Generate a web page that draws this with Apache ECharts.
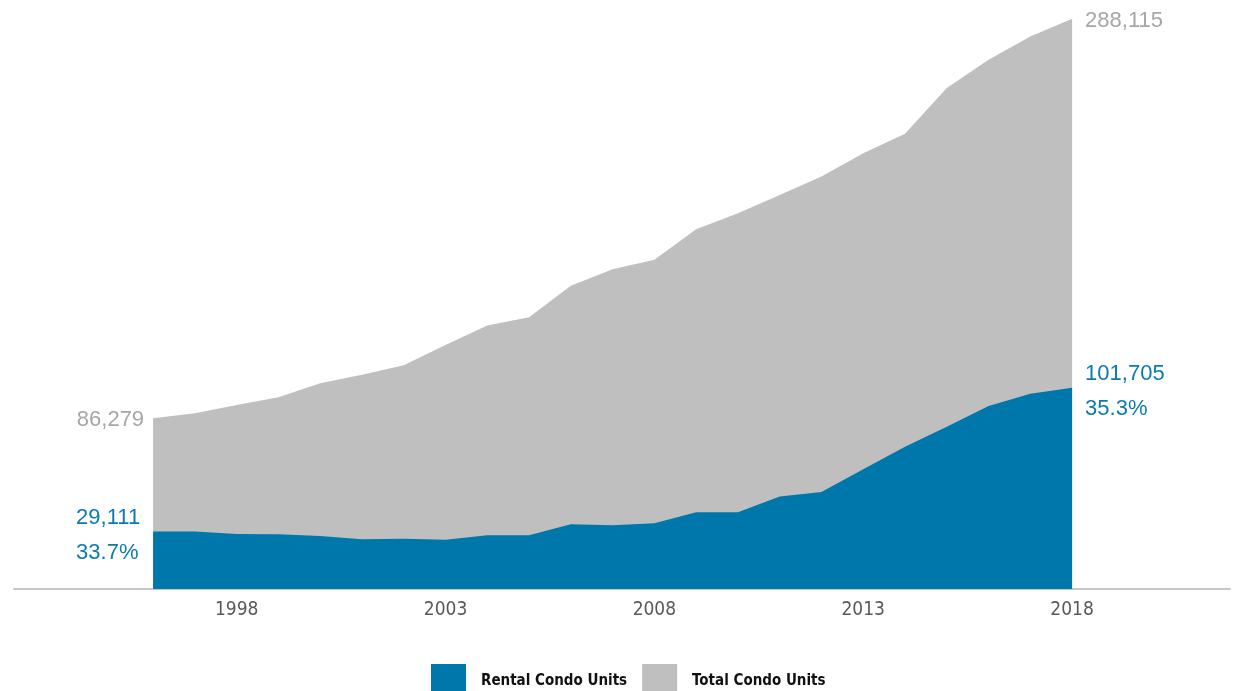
<!DOCTYPE html>
<html>
<head>
<meta charset="utf-8">
<script src="https://cdn.jsdelivr.net/npm/echarts@6/dist/echarts.min.js"></script>
<style>
  html, body { margin: 0; padding: 0; background: #fff; }
  #main { width: 1235px; height: 691px; }
</style>
</head>
<body>
<div id="main"></div>
<script>
// 年份
var years = [1996, 1997, 1998, 1999, 2000, 2001, 2002, 2003, 2004, 2005, 2006, 2007,
  2008, 2009, 2010, 2011, 2012, 2013, 2014, 2015, 2016, 2017, 2018]
var totalUnits = [86279, 88800, 93000, 96900, 104000, 108200, 113100, 123300, 133100, 137300,
  153200, 161600, 166300, 181800, 189900, 199000, 208400, 220200, 230000, 253100, 267400,
  279200, 288115]
var rentalUnits = [29111, 29000, 27800, 27600, 26800, 25100, 25400, 24900, 27100, 27100,
  32700, 32200, 33200, 38800, 38800, 46700, 49000, 60500, 71900, 82000, 92500, 98600, 101705]
var xTickLabels = [1998, 2003, 2008, 2013, 2018]

var blue = '#0077aa'
var grey = '#bfbfbf'
var last = years.length - 1

function fmt (v) {
  return v.toLocaleString('en-US')
}
function pct (i) {
  return (rentalUnits[i] / totalUnits[i] * 100).toFixed(1) + '%'
}

// 构建数据，首尾点带标签
function buildData (values, leftDist, rightDist) {
  return values.map(function (v, i) {
    var item = { value: [years[i], v] }
    if (i === 0) item.label = { show: true, position: 'left', distance: leftDist }
    if (i === last) item.label = { show: true, position: 'right', distance: rightDist }
    return item
  })
}

var chart = echarts.init(document.getElementById('main'))
chart.setOption({
  animation: false,
  grid: { left: 14, right: 5, top: 15, height: 574 },
  legend: {
    left: 426,
    top: 659,
    itemWidth: 35,
    itemHeight: 35,
    itemGap: 15,
    icon: 'rect',
    data: ['Rental Condo Units', 'Total Condo Units'],
    textStyle: {
      fontFamily: 'DejaVu Sans Condensed',
      fontWeight: 'bold',
      fontSize: 15,
      color: '#111',
      padding: [0, 0, 0, 10]
    }
  },
  xAxis: {
    type: 'value',
    min: 1992.67,
    max: 2021.78,
    splitLine: { show: false },
    axisTick: { show: false },
    axisLine: { show: true, lineStyle: { color: '#c8c8c8', width: 2 } },
    axisLabel: {
      customValues: xTickLabels,
      formatter: function (v) { return String(v) },
      margin: 12,
      fontFamily: 'DejaVu Sans Condensed',
      fontSize: 19,
      color: '#595959'
    }
  },
  yAxis: {
    type: 'value',
    min: 0,
    max: 290000,
    show: false,
    splitLine: { show: false }
  },
  series: [
    {
      name: 'Total Condo Units',
      type: 'line',
      data: buildData(totalUnits, 9, 13),
      showSymbol: true,
      symbolSize: 0,
      lineStyle: { width: 0 },
      itemStyle: { color: grey },
      areaStyle: { color: grey, opacity: 1 },
      emphasis: { disabled: true },
      label: {
        show: false,
        offset: [0, 2],
        fontFamily: 'Liberation Sans',
        fontSize: 22,
        color: '#a6a6a6',
        formatter: function (p) { return fmt(p.value[1]) }
      },
      z: 1
    },
    {
      name: 'Rental Condo Units',
      type: 'line',
      data: buildData(rentalUnits, 9, 13),
      showSymbol: true,
      symbolSize: 0,
      lineStyle: { width: 0 },
      itemStyle: { color: blue },
      areaStyle: { color: blue, opacity: 1 },
      emphasis: { disabled: true },
      label: {
        show: false,
        width: 68,
        offset: [0, 4],
        formatter: function (p) {
          return '{a|' + fmt(p.value[1]) + '}\n{a|' + pct(p.dataIndex) + '}'
        },
        rich: {
          a: {
            align: 'left',
            fontFamily: 'Liberation Sans',
            fontSize: 22,
            lineHeight: 35,
            color: '#0a7bb0'
          }
        }
      },
      z: 2
    }
  ]
})
</script>
</body>
</html>
